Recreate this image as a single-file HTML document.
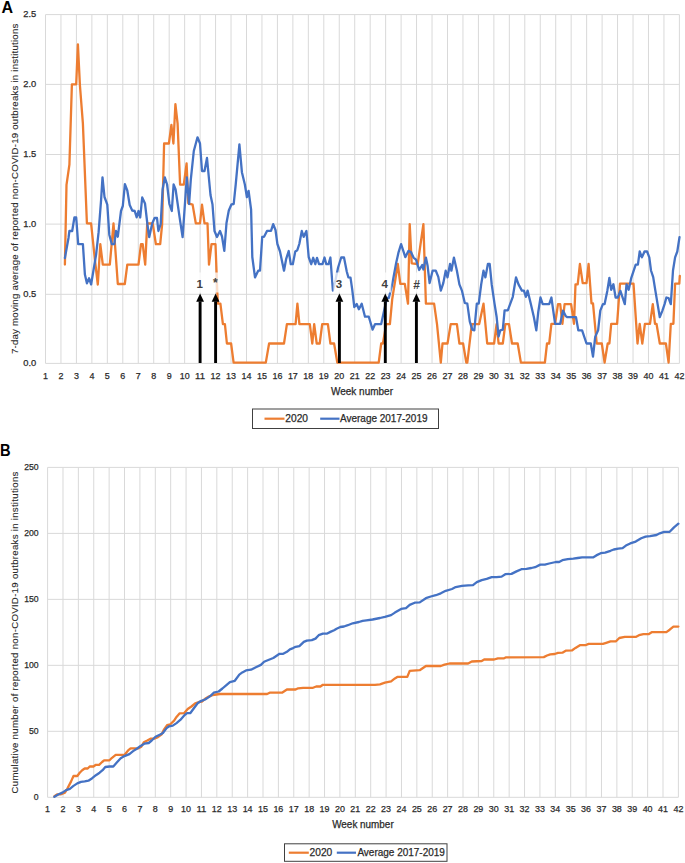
<!DOCTYPE html>
<html><head><meta charset="utf-8"><title>chart</title>
<style>html,body{margin:0;padding:0;background:#fff;} body{width:685px;height:863px;overflow:hidden;font-family:"Liberation Sans",sans-serif;}</style>
</head><body>
<svg width="685" height="863" viewBox="0 0 685 863" style="display:block">
<rect width="100%" height="100%" fill="#fff"/>
<g stroke="#D9D9D9" stroke-width="1" fill="none"><line x1="45.50" y1="14.60" x2="45.50" y2="363.40"/><line x1="60.96" y1="14.60" x2="60.96" y2="363.40"/><line x1="76.42" y1="14.60" x2="76.42" y2="363.40"/><line x1="91.88" y1="14.60" x2="91.88" y2="363.40"/><line x1="107.34" y1="14.60" x2="107.34" y2="363.40"/><line x1="122.80" y1="14.60" x2="122.80" y2="363.40"/><line x1="138.27" y1="14.60" x2="138.27" y2="363.40"/><line x1="153.73" y1="14.60" x2="153.73" y2="363.40"/><line x1="169.19" y1="14.60" x2="169.19" y2="363.40"/><line x1="184.65" y1="14.60" x2="184.65" y2="363.40"/><line x1="200.11" y1="14.60" x2="200.11" y2="363.40"/><line x1="215.57" y1="14.60" x2="215.57" y2="363.40"/><line x1="231.03" y1="14.60" x2="231.03" y2="363.40"/><line x1="246.49" y1="14.60" x2="246.49" y2="363.40"/><line x1="261.95" y1="14.60" x2="261.95" y2="363.40"/><line x1="277.41" y1="14.60" x2="277.41" y2="363.40"/><line x1="292.88" y1="14.60" x2="292.88" y2="363.40"/><line x1="308.34" y1="14.60" x2="308.34" y2="363.40"/><line x1="323.80" y1="14.60" x2="323.80" y2="363.40"/><line x1="339.26" y1="14.60" x2="339.26" y2="363.40"/><line x1="354.72" y1="14.60" x2="354.72" y2="363.40"/><line x1="370.18" y1="14.60" x2="370.18" y2="363.40"/><line x1="385.64" y1="14.60" x2="385.64" y2="363.40"/><line x1="401.10" y1="14.60" x2="401.10" y2="363.40"/><line x1="416.56" y1="14.60" x2="416.56" y2="363.40"/><line x1="432.02" y1="14.60" x2="432.02" y2="363.40"/><line x1="447.49" y1="14.60" x2="447.49" y2="363.40"/><line x1="462.95" y1="14.60" x2="462.95" y2="363.40"/><line x1="478.41" y1="14.60" x2="478.41" y2="363.40"/><line x1="493.87" y1="14.60" x2="493.87" y2="363.40"/><line x1="509.33" y1="14.60" x2="509.33" y2="363.40"/><line x1="524.79" y1="14.60" x2="524.79" y2="363.40"/><line x1="540.25" y1="14.60" x2="540.25" y2="363.40"/><line x1="555.71" y1="14.60" x2="555.71" y2="363.40"/><line x1="571.17" y1="14.60" x2="571.17" y2="363.40"/><line x1="586.63" y1="14.60" x2="586.63" y2="363.40"/><line x1="602.10" y1="14.60" x2="602.10" y2="363.40"/><line x1="617.56" y1="14.60" x2="617.56" y2="363.40"/><line x1="633.02" y1="14.60" x2="633.02" y2="363.40"/><line x1="648.48" y1="14.60" x2="648.48" y2="363.40"/><line x1="663.94" y1="14.60" x2="663.94" y2="363.40"/><line x1="679.40" y1="14.60" x2="679.40" y2="363.40"/><line x1="45.50" y1="363.40" x2="679.40" y2="363.40"/><line x1="45.50" y1="294.30" x2="679.40" y2="294.30"/><line x1="45.50" y1="224.10" x2="679.40" y2="224.10"/><line x1="45.50" y1="154.50" x2="679.40" y2="154.50"/><line x1="45.50" y1="84.40" x2="679.40" y2="84.40"/><line x1="45.50" y1="14.60" x2="679.40" y2="14.60"/></g>
<g stroke="#D9D9D9" stroke-width="1" fill="none"><line x1="47.60" y1="467.40" x2="47.60" y2="797.30"/><line x1="62.99" y1="467.40" x2="62.99" y2="797.30"/><line x1="78.37" y1="467.40" x2="78.37" y2="797.30"/><line x1="93.76" y1="467.40" x2="93.76" y2="797.30"/><line x1="109.14" y1="467.40" x2="109.14" y2="797.30"/><line x1="124.53" y1="467.40" x2="124.53" y2="797.30"/><line x1="139.91" y1="467.40" x2="139.91" y2="797.30"/><line x1="155.30" y1="467.40" x2="155.30" y2="797.30"/><line x1="170.68" y1="467.40" x2="170.68" y2="797.30"/><line x1="186.07" y1="467.40" x2="186.07" y2="797.30"/><line x1="201.45" y1="467.40" x2="201.45" y2="797.30"/><line x1="216.84" y1="467.40" x2="216.84" y2="797.30"/><line x1="232.22" y1="467.40" x2="232.22" y2="797.30"/><line x1="247.61" y1="467.40" x2="247.61" y2="797.30"/><line x1="263.00" y1="467.40" x2="263.00" y2="797.30"/><line x1="278.38" y1="467.40" x2="278.38" y2="797.30"/><line x1="293.77" y1="467.40" x2="293.77" y2="797.30"/><line x1="309.15" y1="467.40" x2="309.15" y2="797.30"/><line x1="324.54" y1="467.40" x2="324.54" y2="797.30"/><line x1="339.92" y1="467.40" x2="339.92" y2="797.30"/><line x1="355.31" y1="467.40" x2="355.31" y2="797.30"/><line x1="370.69" y1="467.40" x2="370.69" y2="797.30"/><line x1="386.08" y1="467.40" x2="386.08" y2="797.30"/><line x1="401.46" y1="467.40" x2="401.46" y2="797.30"/><line x1="416.85" y1="467.40" x2="416.85" y2="797.30"/><line x1="432.23" y1="467.40" x2="432.23" y2="797.30"/><line x1="447.62" y1="467.40" x2="447.62" y2="797.30"/><line x1="463.00" y1="467.40" x2="463.00" y2="797.30"/><line x1="478.39" y1="467.40" x2="478.39" y2="797.30"/><line x1="493.78" y1="467.40" x2="493.78" y2="797.30"/><line x1="509.16" y1="467.40" x2="509.16" y2="797.30"/><line x1="524.55" y1="467.40" x2="524.55" y2="797.30"/><line x1="539.93" y1="467.40" x2="539.93" y2="797.30"/><line x1="555.32" y1="467.40" x2="555.32" y2="797.30"/><line x1="570.70" y1="467.40" x2="570.70" y2="797.30"/><line x1="586.09" y1="467.40" x2="586.09" y2="797.30"/><line x1="601.47" y1="467.40" x2="601.47" y2="797.30"/><line x1="616.86" y1="467.40" x2="616.86" y2="797.30"/><line x1="632.24" y1="467.40" x2="632.24" y2="797.30"/><line x1="647.63" y1="467.40" x2="647.63" y2="797.30"/><line x1="663.01" y1="467.40" x2="663.01" y2="797.30"/><line x1="678.40" y1="467.40" x2="678.40" y2="797.30"/><line x1="47.60" y1="797.30" x2="678.40" y2="797.30"/><line x1="47.60" y1="731.32" x2="678.40" y2="731.32"/><line x1="47.60" y1="665.34" x2="678.40" y2="665.34"/><line x1="47.60" y1="599.36" x2="678.40" y2="599.36"/><line x1="47.60" y1="533.38" x2="678.40" y2="533.38"/><line x1="47.60" y1="467.40" x2="678.40" y2="467.40"/></g>
<text x="36.2" y="365.8" font-size="9.4" text-anchor="end" font-weight="normal" fill="#2a2a2a" stroke="#2a2a2a" stroke-width="0.25" font-family="Liberation Sans, sans-serif" textLength="13.0" lengthAdjust="spacingAndGlyphs" >0.0</text>
<text x="36.2" y="296.7" font-size="9.4" text-anchor="end" font-weight="normal" fill="#2a2a2a" stroke="#2a2a2a" stroke-width="0.25" font-family="Liberation Sans, sans-serif" textLength="13.0" lengthAdjust="spacingAndGlyphs" >0.5</text>
<text x="36.2" y="226.5" font-size="9.4" text-anchor="end" font-weight="normal" fill="#2a2a2a" stroke="#2a2a2a" stroke-width="0.25" font-family="Liberation Sans, sans-serif" textLength="13.0" lengthAdjust="spacingAndGlyphs" >1.0</text>
<text x="36.2" y="156.9" font-size="9.4" text-anchor="end" font-weight="normal" fill="#2a2a2a" stroke="#2a2a2a" stroke-width="0.25" font-family="Liberation Sans, sans-serif" textLength="13.0" lengthAdjust="spacingAndGlyphs" >1.5</text>
<text x="36.2" y="86.8" font-size="9.4" text-anchor="end" font-weight="normal" fill="#2a2a2a" stroke="#2a2a2a" stroke-width="0.25" font-family="Liberation Sans, sans-serif" textLength="13.0" lengthAdjust="spacingAndGlyphs" >2.0</text>
<text x="36.2" y="17.0" font-size="9.4" text-anchor="end" font-weight="normal" fill="#2a2a2a" stroke="#2a2a2a" stroke-width="0.25" font-family="Liberation Sans, sans-serif" textLength="13.0" lengthAdjust="spacingAndGlyphs" >2.5</text>
<text x="38.6" y="799.8" font-size="9.4" text-anchor="end" font-weight="normal" fill="#2a2a2a" stroke="#2a2a2a" stroke-width="0.25" font-family="Liberation Sans, sans-serif" textLength="4.81" lengthAdjust="spacingAndGlyphs" >0</text>
<text x="38.6" y="733.82" font-size="9.4" text-anchor="end" font-weight="normal" fill="#2a2a2a" stroke="#2a2a2a" stroke-width="0.25" font-family="Liberation Sans, sans-serif" textLength="9.62" lengthAdjust="spacingAndGlyphs" >50</text>
<text x="38.6" y="667.84" font-size="9.4" text-anchor="end" font-weight="normal" fill="#2a2a2a" stroke="#2a2a2a" stroke-width="0.25" font-family="Liberation Sans, sans-serif" textLength="14.43" lengthAdjust="spacingAndGlyphs" >100</text>
<text x="38.6" y="601.86" font-size="9.4" text-anchor="end" font-weight="normal" fill="#2a2a2a" stroke="#2a2a2a" stroke-width="0.25" font-family="Liberation Sans, sans-serif" textLength="14.43" lengthAdjust="spacingAndGlyphs" >150</text>
<text x="38.6" y="535.88" font-size="9.4" text-anchor="end" font-weight="normal" fill="#2a2a2a" stroke="#2a2a2a" stroke-width="0.25" font-family="Liberation Sans, sans-serif" textLength="14.43" lengthAdjust="spacingAndGlyphs" >200</text>
<text x="38.6" y="469.9" font-size="9.4" text-anchor="end" font-weight="normal" fill="#2a2a2a" stroke="#2a2a2a" stroke-width="0.25" font-family="Liberation Sans, sans-serif" textLength="14.43" lengthAdjust="spacingAndGlyphs" >250</text>
<text x="45.5" y="378.9" font-size="9.4" text-anchor="middle" font-weight="normal" fill="#2a2a2a" stroke="#2a2a2a" stroke-width="0.25" font-family="Liberation Sans, sans-serif" textLength="4.97" lengthAdjust="spacingAndGlyphs" >1</text>
<text x="47.6" y="812.0" font-size="9.4" text-anchor="middle" font-weight="normal" fill="#2a2a2a" stroke="#2a2a2a" stroke-width="0.25" font-family="Liberation Sans, sans-serif" textLength="4.97" lengthAdjust="spacingAndGlyphs" >1</text>
<text x="60.96" y="378.9" font-size="9.4" text-anchor="middle" font-weight="normal" fill="#2a2a2a" stroke="#2a2a2a" stroke-width="0.25" font-family="Liberation Sans, sans-serif" textLength="4.97" lengthAdjust="spacingAndGlyphs" >2</text>
<text x="62.99" y="812.0" font-size="9.4" text-anchor="middle" font-weight="normal" fill="#2a2a2a" stroke="#2a2a2a" stroke-width="0.25" font-family="Liberation Sans, sans-serif" textLength="4.97" lengthAdjust="spacingAndGlyphs" >2</text>
<text x="76.42" y="378.9" font-size="9.4" text-anchor="middle" font-weight="normal" fill="#2a2a2a" stroke="#2a2a2a" stroke-width="0.25" font-family="Liberation Sans, sans-serif" textLength="4.97" lengthAdjust="spacingAndGlyphs" >3</text>
<text x="78.37" y="812.0" font-size="9.4" text-anchor="middle" font-weight="normal" fill="#2a2a2a" stroke="#2a2a2a" stroke-width="0.25" font-family="Liberation Sans, sans-serif" textLength="4.97" lengthAdjust="spacingAndGlyphs" >3</text>
<text x="91.88" y="378.9" font-size="9.4" text-anchor="middle" font-weight="normal" fill="#2a2a2a" stroke="#2a2a2a" stroke-width="0.25" font-family="Liberation Sans, sans-serif" textLength="4.97" lengthAdjust="spacingAndGlyphs" >4</text>
<text x="93.76" y="812.0" font-size="9.4" text-anchor="middle" font-weight="normal" fill="#2a2a2a" stroke="#2a2a2a" stroke-width="0.25" font-family="Liberation Sans, sans-serif" textLength="4.97" lengthAdjust="spacingAndGlyphs" >4</text>
<text x="107.34" y="378.9" font-size="9.4" text-anchor="middle" font-weight="normal" fill="#2a2a2a" stroke="#2a2a2a" stroke-width="0.25" font-family="Liberation Sans, sans-serif" textLength="4.97" lengthAdjust="spacingAndGlyphs" >5</text>
<text x="109.14" y="812.0" font-size="9.4" text-anchor="middle" font-weight="normal" fill="#2a2a2a" stroke="#2a2a2a" stroke-width="0.25" font-family="Liberation Sans, sans-serif" textLength="4.97" lengthAdjust="spacingAndGlyphs" >5</text>
<text x="122.8" y="378.9" font-size="9.4" text-anchor="middle" font-weight="normal" fill="#2a2a2a" stroke="#2a2a2a" stroke-width="0.25" font-family="Liberation Sans, sans-serif" textLength="4.97" lengthAdjust="spacingAndGlyphs" >6</text>
<text x="124.53" y="812.0" font-size="9.4" text-anchor="middle" font-weight="normal" fill="#2a2a2a" stroke="#2a2a2a" stroke-width="0.25" font-family="Liberation Sans, sans-serif" textLength="4.97" lengthAdjust="spacingAndGlyphs" >6</text>
<text x="138.27" y="378.9" font-size="9.4" text-anchor="middle" font-weight="normal" fill="#2a2a2a" stroke="#2a2a2a" stroke-width="0.25" font-family="Liberation Sans, sans-serif" textLength="4.97" lengthAdjust="spacingAndGlyphs" >7</text>
<text x="139.91" y="812.0" font-size="9.4" text-anchor="middle" font-weight="normal" fill="#2a2a2a" stroke="#2a2a2a" stroke-width="0.25" font-family="Liberation Sans, sans-serif" textLength="4.97" lengthAdjust="spacingAndGlyphs" >7</text>
<text x="153.73" y="378.9" font-size="9.4" text-anchor="middle" font-weight="normal" fill="#2a2a2a" stroke="#2a2a2a" stroke-width="0.25" font-family="Liberation Sans, sans-serif" textLength="4.97" lengthAdjust="spacingAndGlyphs" >8</text>
<text x="155.3" y="812.0" font-size="9.4" text-anchor="middle" font-weight="normal" fill="#2a2a2a" stroke="#2a2a2a" stroke-width="0.25" font-family="Liberation Sans, sans-serif" textLength="4.97" lengthAdjust="spacingAndGlyphs" >8</text>
<text x="169.19" y="378.9" font-size="9.4" text-anchor="middle" font-weight="normal" fill="#2a2a2a" stroke="#2a2a2a" stroke-width="0.25" font-family="Liberation Sans, sans-serif" textLength="4.97" lengthAdjust="spacingAndGlyphs" >9</text>
<text x="170.68" y="812.0" font-size="9.4" text-anchor="middle" font-weight="normal" fill="#2a2a2a" stroke="#2a2a2a" stroke-width="0.25" font-family="Liberation Sans, sans-serif" textLength="4.97" lengthAdjust="spacingAndGlyphs" >9</text>
<text x="184.65" y="378.9" font-size="9.4" text-anchor="middle" font-weight="normal" fill="#2a2a2a" stroke="#2a2a2a" stroke-width="0.25" font-family="Liberation Sans, sans-serif" textLength="9.94" lengthAdjust="spacingAndGlyphs" >10</text>
<text x="186.07" y="812.0" font-size="9.4" text-anchor="middle" font-weight="normal" fill="#2a2a2a" stroke="#2a2a2a" stroke-width="0.25" font-family="Liberation Sans, sans-serif" textLength="9.94" lengthAdjust="spacingAndGlyphs" >10</text>
<text x="200.11" y="378.9" font-size="9.4" text-anchor="middle" font-weight="normal" fill="#2a2a2a" stroke="#2a2a2a" stroke-width="0.25" font-family="Liberation Sans, sans-serif" textLength="9.94" lengthAdjust="spacingAndGlyphs" >11</text>
<text x="201.45" y="812.0" font-size="9.4" text-anchor="middle" font-weight="normal" fill="#2a2a2a" stroke="#2a2a2a" stroke-width="0.25" font-family="Liberation Sans, sans-serif" textLength="9.94" lengthAdjust="spacingAndGlyphs" >11</text>
<text x="215.57" y="378.9" font-size="9.4" text-anchor="middle" font-weight="normal" fill="#2a2a2a" stroke="#2a2a2a" stroke-width="0.25" font-family="Liberation Sans, sans-serif" textLength="9.94" lengthAdjust="spacingAndGlyphs" >12</text>
<text x="216.84" y="812.0" font-size="9.4" text-anchor="middle" font-weight="normal" fill="#2a2a2a" stroke="#2a2a2a" stroke-width="0.25" font-family="Liberation Sans, sans-serif" textLength="9.94" lengthAdjust="spacingAndGlyphs" >12</text>
<text x="231.03" y="378.9" font-size="9.4" text-anchor="middle" font-weight="normal" fill="#2a2a2a" stroke="#2a2a2a" stroke-width="0.25" font-family="Liberation Sans, sans-serif" textLength="9.94" lengthAdjust="spacingAndGlyphs" >13</text>
<text x="232.22" y="812.0" font-size="9.4" text-anchor="middle" font-weight="normal" fill="#2a2a2a" stroke="#2a2a2a" stroke-width="0.25" font-family="Liberation Sans, sans-serif" textLength="9.94" lengthAdjust="spacingAndGlyphs" >13</text>
<text x="246.49" y="378.9" font-size="9.4" text-anchor="middle" font-weight="normal" fill="#2a2a2a" stroke="#2a2a2a" stroke-width="0.25" font-family="Liberation Sans, sans-serif" textLength="9.94" lengthAdjust="spacingAndGlyphs" >14</text>
<text x="247.61" y="812.0" font-size="9.4" text-anchor="middle" font-weight="normal" fill="#2a2a2a" stroke="#2a2a2a" stroke-width="0.25" font-family="Liberation Sans, sans-serif" textLength="9.94" lengthAdjust="spacingAndGlyphs" >14</text>
<text x="261.95" y="378.9" font-size="9.4" text-anchor="middle" font-weight="normal" fill="#2a2a2a" stroke="#2a2a2a" stroke-width="0.25" font-family="Liberation Sans, sans-serif" textLength="9.94" lengthAdjust="spacingAndGlyphs" >15</text>
<text x="263.0" y="812.0" font-size="9.4" text-anchor="middle" font-weight="normal" fill="#2a2a2a" stroke="#2a2a2a" stroke-width="0.25" font-family="Liberation Sans, sans-serif" textLength="9.94" lengthAdjust="spacingAndGlyphs" >15</text>
<text x="277.41" y="378.9" font-size="9.4" text-anchor="middle" font-weight="normal" fill="#2a2a2a" stroke="#2a2a2a" stroke-width="0.25" font-family="Liberation Sans, sans-serif" textLength="9.94" lengthAdjust="spacingAndGlyphs" >16</text>
<text x="278.38" y="812.0" font-size="9.4" text-anchor="middle" font-weight="normal" fill="#2a2a2a" stroke="#2a2a2a" stroke-width="0.25" font-family="Liberation Sans, sans-serif" textLength="9.94" lengthAdjust="spacingAndGlyphs" >16</text>
<text x="292.88" y="378.9" font-size="9.4" text-anchor="middle" font-weight="normal" fill="#2a2a2a" stroke="#2a2a2a" stroke-width="0.25" font-family="Liberation Sans, sans-serif" textLength="9.94" lengthAdjust="spacingAndGlyphs" >17</text>
<text x="293.77" y="812.0" font-size="9.4" text-anchor="middle" font-weight="normal" fill="#2a2a2a" stroke="#2a2a2a" stroke-width="0.25" font-family="Liberation Sans, sans-serif" textLength="9.94" lengthAdjust="spacingAndGlyphs" >17</text>
<text x="308.34" y="378.9" font-size="9.4" text-anchor="middle" font-weight="normal" fill="#2a2a2a" stroke="#2a2a2a" stroke-width="0.25" font-family="Liberation Sans, sans-serif" textLength="9.94" lengthAdjust="spacingAndGlyphs" >18</text>
<text x="309.15" y="812.0" font-size="9.4" text-anchor="middle" font-weight="normal" fill="#2a2a2a" stroke="#2a2a2a" stroke-width="0.25" font-family="Liberation Sans, sans-serif" textLength="9.94" lengthAdjust="spacingAndGlyphs" >18</text>
<text x="323.8" y="378.9" font-size="9.4" text-anchor="middle" font-weight="normal" fill="#2a2a2a" stroke="#2a2a2a" stroke-width="0.25" font-family="Liberation Sans, sans-serif" textLength="9.94" lengthAdjust="spacingAndGlyphs" >19</text>
<text x="324.54" y="812.0" font-size="9.4" text-anchor="middle" font-weight="normal" fill="#2a2a2a" stroke="#2a2a2a" stroke-width="0.25" font-family="Liberation Sans, sans-serif" textLength="9.94" lengthAdjust="spacingAndGlyphs" >19</text>
<text x="339.26" y="378.9" font-size="9.4" text-anchor="middle" font-weight="normal" fill="#2a2a2a" stroke="#2a2a2a" stroke-width="0.25" font-family="Liberation Sans, sans-serif" textLength="9.94" lengthAdjust="spacingAndGlyphs" >20</text>
<text x="339.92" y="812.0" font-size="9.4" text-anchor="middle" font-weight="normal" fill="#2a2a2a" stroke="#2a2a2a" stroke-width="0.25" font-family="Liberation Sans, sans-serif" textLength="9.94" lengthAdjust="spacingAndGlyphs" >20</text>
<text x="354.72" y="378.9" font-size="9.4" text-anchor="middle" font-weight="normal" fill="#2a2a2a" stroke="#2a2a2a" stroke-width="0.25" font-family="Liberation Sans, sans-serif" textLength="9.94" lengthAdjust="spacingAndGlyphs" >21</text>
<text x="355.31" y="812.0" font-size="9.4" text-anchor="middle" font-weight="normal" fill="#2a2a2a" stroke="#2a2a2a" stroke-width="0.25" font-family="Liberation Sans, sans-serif" textLength="9.94" lengthAdjust="spacingAndGlyphs" >21</text>
<text x="370.18" y="378.9" font-size="9.4" text-anchor="middle" font-weight="normal" fill="#2a2a2a" stroke="#2a2a2a" stroke-width="0.25" font-family="Liberation Sans, sans-serif" textLength="9.94" lengthAdjust="spacingAndGlyphs" >22</text>
<text x="370.69" y="812.0" font-size="9.4" text-anchor="middle" font-weight="normal" fill="#2a2a2a" stroke="#2a2a2a" stroke-width="0.25" font-family="Liberation Sans, sans-serif" textLength="9.94" lengthAdjust="spacingAndGlyphs" >22</text>
<text x="385.64" y="378.9" font-size="9.4" text-anchor="middle" font-weight="normal" fill="#2a2a2a" stroke="#2a2a2a" stroke-width="0.25" font-family="Liberation Sans, sans-serif" textLength="9.94" lengthAdjust="spacingAndGlyphs" >23</text>
<text x="386.08" y="812.0" font-size="9.4" text-anchor="middle" font-weight="normal" fill="#2a2a2a" stroke="#2a2a2a" stroke-width="0.25" font-family="Liberation Sans, sans-serif" textLength="9.94" lengthAdjust="spacingAndGlyphs" >23</text>
<text x="401.1" y="378.9" font-size="9.4" text-anchor="middle" font-weight="normal" fill="#2a2a2a" stroke="#2a2a2a" stroke-width="0.25" font-family="Liberation Sans, sans-serif" textLength="9.94" lengthAdjust="spacingAndGlyphs" >24</text>
<text x="401.46" y="812.0" font-size="9.4" text-anchor="middle" font-weight="normal" fill="#2a2a2a" stroke="#2a2a2a" stroke-width="0.25" font-family="Liberation Sans, sans-serif" textLength="9.94" lengthAdjust="spacingAndGlyphs" >24</text>
<text x="416.56" y="378.9" font-size="9.4" text-anchor="middle" font-weight="normal" fill="#2a2a2a" stroke="#2a2a2a" stroke-width="0.25" font-family="Liberation Sans, sans-serif" textLength="9.94" lengthAdjust="spacingAndGlyphs" >25</text>
<text x="416.85" y="812.0" font-size="9.4" text-anchor="middle" font-weight="normal" fill="#2a2a2a" stroke="#2a2a2a" stroke-width="0.25" font-family="Liberation Sans, sans-serif" textLength="9.94" lengthAdjust="spacingAndGlyphs" >25</text>
<text x="432.02" y="378.9" font-size="9.4" text-anchor="middle" font-weight="normal" fill="#2a2a2a" stroke="#2a2a2a" stroke-width="0.25" font-family="Liberation Sans, sans-serif" textLength="9.94" lengthAdjust="spacingAndGlyphs" >26</text>
<text x="432.23" y="812.0" font-size="9.4" text-anchor="middle" font-weight="normal" fill="#2a2a2a" stroke="#2a2a2a" stroke-width="0.25" font-family="Liberation Sans, sans-serif" textLength="9.94" lengthAdjust="spacingAndGlyphs" >26</text>
<text x="447.49" y="378.9" font-size="9.4" text-anchor="middle" font-weight="normal" fill="#2a2a2a" stroke="#2a2a2a" stroke-width="0.25" font-family="Liberation Sans, sans-serif" textLength="9.94" lengthAdjust="spacingAndGlyphs" >27</text>
<text x="447.62" y="812.0" font-size="9.4" text-anchor="middle" font-weight="normal" fill="#2a2a2a" stroke="#2a2a2a" stroke-width="0.25" font-family="Liberation Sans, sans-serif" textLength="9.94" lengthAdjust="spacingAndGlyphs" >27</text>
<text x="462.95" y="378.9" font-size="9.4" text-anchor="middle" font-weight="normal" fill="#2a2a2a" stroke="#2a2a2a" stroke-width="0.25" font-family="Liberation Sans, sans-serif" textLength="9.94" lengthAdjust="spacingAndGlyphs" >28</text>
<text x="463.0" y="812.0" font-size="9.4" text-anchor="middle" font-weight="normal" fill="#2a2a2a" stroke="#2a2a2a" stroke-width="0.25" font-family="Liberation Sans, sans-serif" textLength="9.94" lengthAdjust="spacingAndGlyphs" >28</text>
<text x="478.41" y="378.9" font-size="9.4" text-anchor="middle" font-weight="normal" fill="#2a2a2a" stroke="#2a2a2a" stroke-width="0.25" font-family="Liberation Sans, sans-serif" textLength="9.94" lengthAdjust="spacingAndGlyphs" >29</text>
<text x="478.39" y="812.0" font-size="9.4" text-anchor="middle" font-weight="normal" fill="#2a2a2a" stroke="#2a2a2a" stroke-width="0.25" font-family="Liberation Sans, sans-serif" textLength="9.94" lengthAdjust="spacingAndGlyphs" >29</text>
<text x="493.87" y="378.9" font-size="9.4" text-anchor="middle" font-weight="normal" fill="#2a2a2a" stroke="#2a2a2a" stroke-width="0.25" font-family="Liberation Sans, sans-serif" textLength="9.94" lengthAdjust="spacingAndGlyphs" >30</text>
<text x="493.78" y="812.0" font-size="9.4" text-anchor="middle" font-weight="normal" fill="#2a2a2a" stroke="#2a2a2a" stroke-width="0.25" font-family="Liberation Sans, sans-serif" textLength="9.94" lengthAdjust="spacingAndGlyphs" >30</text>
<text x="509.33" y="378.9" font-size="9.4" text-anchor="middle" font-weight="normal" fill="#2a2a2a" stroke="#2a2a2a" stroke-width="0.25" font-family="Liberation Sans, sans-serif" textLength="9.94" lengthAdjust="spacingAndGlyphs" >31</text>
<text x="509.16" y="812.0" font-size="9.4" text-anchor="middle" font-weight="normal" fill="#2a2a2a" stroke="#2a2a2a" stroke-width="0.25" font-family="Liberation Sans, sans-serif" textLength="9.94" lengthAdjust="spacingAndGlyphs" >31</text>
<text x="524.79" y="378.9" font-size="9.4" text-anchor="middle" font-weight="normal" fill="#2a2a2a" stroke="#2a2a2a" stroke-width="0.25" font-family="Liberation Sans, sans-serif" textLength="9.94" lengthAdjust="spacingAndGlyphs" >32</text>
<text x="524.55" y="812.0" font-size="9.4" text-anchor="middle" font-weight="normal" fill="#2a2a2a" stroke="#2a2a2a" stroke-width="0.25" font-family="Liberation Sans, sans-serif" textLength="9.94" lengthAdjust="spacingAndGlyphs" >32</text>
<text x="540.25" y="378.9" font-size="9.4" text-anchor="middle" font-weight="normal" fill="#2a2a2a" stroke="#2a2a2a" stroke-width="0.25" font-family="Liberation Sans, sans-serif" textLength="9.94" lengthAdjust="spacingAndGlyphs" >33</text>
<text x="539.93" y="812.0" font-size="9.4" text-anchor="middle" font-weight="normal" fill="#2a2a2a" stroke="#2a2a2a" stroke-width="0.25" font-family="Liberation Sans, sans-serif" textLength="9.94" lengthAdjust="spacingAndGlyphs" >33</text>
<text x="555.71" y="378.9" font-size="9.4" text-anchor="middle" font-weight="normal" fill="#2a2a2a" stroke="#2a2a2a" stroke-width="0.25" font-family="Liberation Sans, sans-serif" textLength="9.94" lengthAdjust="spacingAndGlyphs" >34</text>
<text x="555.32" y="812.0" font-size="9.4" text-anchor="middle" font-weight="normal" fill="#2a2a2a" stroke="#2a2a2a" stroke-width="0.25" font-family="Liberation Sans, sans-serif" textLength="9.94" lengthAdjust="spacingAndGlyphs" >34</text>
<text x="571.17" y="378.9" font-size="9.4" text-anchor="middle" font-weight="normal" fill="#2a2a2a" stroke="#2a2a2a" stroke-width="0.25" font-family="Liberation Sans, sans-serif" textLength="9.94" lengthAdjust="spacingAndGlyphs" >35</text>
<text x="570.7" y="812.0" font-size="9.4" text-anchor="middle" font-weight="normal" fill="#2a2a2a" stroke="#2a2a2a" stroke-width="0.25" font-family="Liberation Sans, sans-serif" textLength="9.94" lengthAdjust="spacingAndGlyphs" >35</text>
<text x="586.63" y="378.9" font-size="9.4" text-anchor="middle" font-weight="normal" fill="#2a2a2a" stroke="#2a2a2a" stroke-width="0.25" font-family="Liberation Sans, sans-serif" textLength="9.94" lengthAdjust="spacingAndGlyphs" >36</text>
<text x="586.09" y="812.0" font-size="9.4" text-anchor="middle" font-weight="normal" fill="#2a2a2a" stroke="#2a2a2a" stroke-width="0.25" font-family="Liberation Sans, sans-serif" textLength="9.94" lengthAdjust="spacingAndGlyphs" >36</text>
<text x="602.1" y="378.9" font-size="9.4" text-anchor="middle" font-weight="normal" fill="#2a2a2a" stroke="#2a2a2a" stroke-width="0.25" font-family="Liberation Sans, sans-serif" textLength="9.94" lengthAdjust="spacingAndGlyphs" >37</text>
<text x="601.47" y="812.0" font-size="9.4" text-anchor="middle" font-weight="normal" fill="#2a2a2a" stroke="#2a2a2a" stroke-width="0.25" font-family="Liberation Sans, sans-serif" textLength="9.94" lengthAdjust="spacingAndGlyphs" >37</text>
<text x="617.56" y="378.9" font-size="9.4" text-anchor="middle" font-weight="normal" fill="#2a2a2a" stroke="#2a2a2a" stroke-width="0.25" font-family="Liberation Sans, sans-serif" textLength="9.94" lengthAdjust="spacingAndGlyphs" >38</text>
<text x="616.86" y="812.0" font-size="9.4" text-anchor="middle" font-weight="normal" fill="#2a2a2a" stroke="#2a2a2a" stroke-width="0.25" font-family="Liberation Sans, sans-serif" textLength="9.94" lengthAdjust="spacingAndGlyphs" >38</text>
<text x="633.02" y="378.9" font-size="9.4" text-anchor="middle" font-weight="normal" fill="#2a2a2a" stroke="#2a2a2a" stroke-width="0.25" font-family="Liberation Sans, sans-serif" textLength="9.94" lengthAdjust="spacingAndGlyphs" >39</text>
<text x="632.24" y="812.0" font-size="9.4" text-anchor="middle" font-weight="normal" fill="#2a2a2a" stroke="#2a2a2a" stroke-width="0.25" font-family="Liberation Sans, sans-serif" textLength="9.94" lengthAdjust="spacingAndGlyphs" >39</text>
<text x="648.48" y="378.9" font-size="9.4" text-anchor="middle" font-weight="normal" fill="#2a2a2a" stroke="#2a2a2a" stroke-width="0.25" font-family="Liberation Sans, sans-serif" textLength="9.94" lengthAdjust="spacingAndGlyphs" >40</text>
<text x="647.63" y="812.0" font-size="9.4" text-anchor="middle" font-weight="normal" fill="#2a2a2a" stroke="#2a2a2a" stroke-width="0.25" font-family="Liberation Sans, sans-serif" textLength="9.94" lengthAdjust="spacingAndGlyphs" >40</text>
<text x="663.94" y="378.9" font-size="9.4" text-anchor="middle" font-weight="normal" fill="#2a2a2a" stroke="#2a2a2a" stroke-width="0.25" font-family="Liberation Sans, sans-serif" textLength="9.94" lengthAdjust="spacingAndGlyphs" >41</text>
<text x="663.01" y="812.0" font-size="9.4" text-anchor="middle" font-weight="normal" fill="#2a2a2a" stroke="#2a2a2a" stroke-width="0.25" font-family="Liberation Sans, sans-serif" textLength="9.94" lengthAdjust="spacingAndGlyphs" >41</text>
<text x="679.4" y="378.9" font-size="9.4" text-anchor="middle" font-weight="normal" fill="#2a2a2a" stroke="#2a2a2a" stroke-width="0.25" font-family="Liberation Sans, sans-serif" textLength="9.94" lengthAdjust="spacingAndGlyphs" >42</text>
<text x="678.4" y="812.0" font-size="9.4" text-anchor="middle" font-weight="normal" fill="#2a2a2a" stroke="#2a2a2a" stroke-width="0.25" font-family="Liberation Sans, sans-serif" textLength="9.94" lengthAdjust="spacingAndGlyphs" >42</text>
<text x="331.0" y="394.8" font-size="10" text-anchor="start" font-weight="normal" fill="#2a2a2a" stroke="#2a2a2a" stroke-width="0.25" font-family="Liberation Sans, sans-serif" textLength="62" lengthAdjust="spacingAndGlyphs" >Week number</text>
<text x="332.2" y="828.1" font-size="10" text-anchor="start" font-weight="normal" fill="#2a2a2a" stroke="#2a2a2a" stroke-width="0.25" font-family="Liberation Sans, sans-serif" textLength="61.5" lengthAdjust="spacingAndGlyphs" >Week number</text>
<g transform="translate(17.8,354.1) rotate(-90)"><text x="0" y="0" font-size="9.7" text-anchor="start" font-weight="normal" fill="#2a2a2a" stroke="#2a2a2a" stroke-width="0.1" font-family="Liberation Sans, sans-serif" textLength="330.5" lengthAdjust="spacing" >7-day moving average of reported non-COVID-19 outbreaks in institutions</text></g>
<g transform="translate(18.1,793.4) rotate(-90)"><text x="0" y="0" font-size="9.7" text-anchor="start" font-weight="normal" fill="#2a2a2a" stroke="#2a2a2a" stroke-width="0.1" font-family="Liberation Sans, sans-serif" textLength="321.8" lengthAdjust="spacing" >Cumulative number of reported non-COVID-19 outbreaks in institutions</text></g>
<text x="1.6" y="12.6" font-size="16" text-anchor="start" font-weight="bold" fill="#000" font-family="Liberation Sans, sans-serif" >A</text>
<text x="0.0" y="455.8" font-size="16" text-anchor="start" font-weight="bold" fill="#000" font-family="Liberation Sans, sans-serif" textLength="10.6" lengthAdjust="spacingAndGlyphs" >B</text>
<rect x="252.5" y="409.0" width="186.0" height="19.5" fill="#fff" stroke="#404040" stroke-width="1"/><line x1="264.5" y1="418.7" x2="284.5" y2="418.7" stroke="#ED7D31" stroke-width="2.2"/><text x="285.3" y="422.1" font-size="10.2" text-anchor="start" font-weight="normal" fill="#2a2a2a" stroke="#2a2a2a" stroke-width="0.25" font-family="Liberation Sans, sans-serif" >2020</text><line x1="320.2" y1="418.7" x2="339.5" y2="418.7" stroke="#4472C4" stroke-width="2.2"/><text x="340.0" y="422.1" font-size="10.2" text-anchor="start" font-weight="normal" fill="#2a2a2a" stroke="#2a2a2a" stroke-width="0.25" font-family="Liberation Sans, sans-serif" textLength="87.5" lengthAdjust="spacingAndGlyphs" >Average 2017-2019</text>
<rect x="284.5" y="843.8" width="162.5" height="17.5" fill="#fff" stroke="#404040" stroke-width="1"/><line x1="288.8" y1="852.7" x2="308.8" y2="852.7" stroke="#ED7D31" stroke-width="2.2"/><text x="309.6" y="856.1" font-size="10.2" text-anchor="start" font-weight="normal" fill="#2a2a2a" stroke="#2a2a2a" stroke-width="0.25" font-family="Liberation Sans, sans-serif" >2020</text><line x1="336.8" y1="852.7" x2="356.0" y2="852.7" stroke="#4472C4" stroke-width="2.2"/><text x="357.4" y="856.1" font-size="10.2" text-anchor="start" font-weight="normal" fill="#2a2a2a" stroke="#2a2a2a" stroke-width="0.25" font-family="Liberation Sans, sans-serif" textLength="87.5" lengthAdjust="spacingAndGlyphs" >Average 2017-2019</text>
<g fill="none" stroke-width="2.3" stroke-linejoin="round" stroke-linecap="round">
<polyline stroke="#ED7D31" points="64.9,264.6 66.5,184.8 69.4,164.7 71.9,84.3 76.2,84.3 77.9,44.4 79.9,85.0 82.9,123.6 86.9,223.3 91.1,223.5 94.9,259.6 97.8,284.5 100.3,244.2 102.8,264.6 109.8,264.6 113.5,223.5 117.8,284.0 124.8,284.0 127.3,264.6 138.5,264.6 141.0,244.2 142.7,244.2 145.2,264.6 147.2,223.5 152.7,223.5 155.9,244.2 160.2,244.2 162.1,224.7 164.1,143.5 168.9,143.5 171.4,124.9 173.4,143.5 175.4,104.2 177.6,123.6 180.1,184.7 183.8,184.7 186.6,163.5 188.3,203.3 192.6,204.6 195.8,223.3 200.0,223.3 202.0,204.6 204.5,223.3 207.5,223.3 209.0,264.6 211.5,244.2 215.5,244.2 217.4,294.3 217.9,303.7 220.4,303.7 222.9,324.1 224.9,324.1 226.9,343.5 231.1,343.5 233.6,362.6 265.8,362.6 269.1,343.5 284.0,343.5 286.9,324.1 295.6,324.1 297.4,303.7 299.4,324.1 309.8,324.1 312.3,343.5 314.2,324.1 316.7,343.5 319.7,343.5 322.2,324.1 327.9,324.1 330.4,343.5 334.1,343.5 337.3,362.6 378.7,362.6 381.2,343.5 382.9,343.5 386.2,324.1 389.9,324.1 392.2,299.3 397.8,264.0 400.3,283.9 404.8,283.9 408.0,303.7 409.7,224.1 411.7,263.3 417.7,264.0 423.4,224.1 425.9,303.7 434.1,303.7 437.0,324.1 440.8,362.6 442.5,343.5 447.5,343.5 450.7,324.1 456.9,324.1 459.4,343.5 463.1,343.5 466.3,362.6 467.3,362.6 471.8,324.1 479.2,324.1 483.5,303.7 487.2,343.5 494.1,343.5 496.6,324.1 498.6,343.5 502.8,343.5 505.3,324.1 509.0,324.1 512.0,343.5 517.7,343.5 520.9,362.6 544.9,362.5 547.0,343.5 549.2,343.5 551.4,323.8 555.1,323.8 558.0,304.1 560.2,304.1 562.4,323.8 564.6,304.1 571.1,304.1 574.0,323.8 575.5,284.3 577.7,284.3 579.9,264.0 582.7,283.2 586.5,283.2 588.6,264.0 591.5,303.4 593.0,303.4 596.7,343.5 601.8,343.5 604.6,362.5 607.7,343.5 609.4,343.5 611.2,323.8 617.1,323.8 620.0,283.7 633.5,283.7 636.2,323.8 637.5,343.5 639.7,323.8 642.3,343.5 644.9,323.8 650.0,323.8 652.8,304.1 655.0,323.8 656.5,323.8 659.8,343.5 665.9,343.5 668.6,362.5 670.8,323.8 673.4,323.8 675.1,283.7 679.3,283.7 679.8,276.0"/>
<polyline stroke="#4472C4" points="64.9,258.0 68.5,238.0 69.4,231.0 72.2,231.0 74.4,217.5 76.2,217.5 78.2,244.2 82.9,244.2 84.9,274.6 86.9,283.3 89.1,278.3 91.1,284.5 96.1,254.6 98.6,232.2 101.1,199.8 102.5,177.3 104.5,197.0 107.3,204.7 109.3,234.7 111.8,244.2 114.3,244.2 116.0,231.0 117.8,236.7 121.0,211.0 122.8,206.0 124.9,184.2 127.3,190.5 129.7,205.0 132.2,210.5 134.7,211.0 136.7,217.3 138.5,211.0 140.2,217.5 142.2,197.5 145.0,203.5 147.5,225.0 149.2,237.2 152.2,223.5 154.7,217.8 157.0,218.0 158.4,231.0 160.7,224.0 162.6,189.5 164.8,177.3 167.1,184.5 169.4,204.0 171.8,211.0 173.6,184.5 175.6,189.5 179.6,217.3 182.6,237.2 186.8,177.3 189.1,204.0 190.8,179.7 193.8,151.0 197.5,137.3 200.0,143.5 202.0,171.0 204.5,171.0 207.0,158.0 210.5,195.0 212.5,204.6 214.5,231.0 217.0,237.0 220.0,231.0 222.0,236.5 224.3,250.8 226.5,223.0 228.8,210.5 231.5,204.3 233.7,204.0 235.7,184.7 239.4,144.3 241.9,172.2 244.9,184.7 246.9,197.2 248.6,190.9 251.1,209.6 252.3,257.0 255.0,277.4 258.2,270.7 260.0,270.7 262.2,237.0 264.2,236.6 267.0,230.9 271.0,230.9 273.2,224.2 275.5,230.0 277.4,244.0 280.0,251.5 284.0,270.7 286.2,258.8 288.7,251.0 290.8,264.2 292.8,264.2 295.3,251.4 297.3,250.2 299.3,244.0 301.8,231.0 303.7,236.8 306.4,231.0 308.7,257.0 311.2,264.2 313.2,257.8 315.3,264.2 317.0,257.8 319.0,264.2 322.5,264.2 324.5,257.5 326.3,264.2 328.5,264.2 330.4,257.5 332.9,290.6 335.5,280.0 338.1,267.5 341.2,257.5 344.0,257.5 346.8,271.7 348.4,277.4 350.5,277.7 352.2,289.4 354.3,307.0 356.7,304.0 358.9,309.2 361.7,303.7 365.0,316.7 368.8,316.7 372.6,329.6 375.1,324.1 381.2,324.1 384.4,309.2 386.9,298.0 388.8,298.0 392.2,284.4 396.1,263.3 398.6,252.1 401.1,244.2 405.3,257.1 408.5,250.9 411.0,252.1 413.5,257.6 416.0,259.6 419.2,270.0 422.2,265.0 423.4,269.5 425.9,257.6 427.6,265.8 429.6,283.1 432.6,270.7 435.8,270.7 438.3,276.9 440.8,290.6 443.3,283.1 445.7,270.7 447.5,277.4 450.0,264.0 451.4,270.7 453.9,257.6 456.9,270.7 459.4,284.4 461.9,290.6 464.8,303.0 467.3,303.7 469.8,321.6 472.3,329.6 474.3,330.3 476.8,303.7 478.7,303.7 481.2,284.4 483.5,270.7 485.4,277.4 487.9,264.0 489.7,264.0 491.7,284.4 494.6,304.2 496.6,316.7 498.6,336.5 500.3,330.3 502.8,329.6 504.6,310.4 507.8,310.4 510.3,303.7 512.8,296.8 516.0,277.4 518.5,284.4 521.9,290.6 523.9,290.6 525.9,296.8 527.6,290.6 530.9,304.2 533.8,316.7 536.3,330.3 538.3,311.7 540.5,297.5 542.7,304.1 549.2,304.1 551.4,297.5 555.1,323.8 560.2,323.8 563.0,310.6 565.7,316.1 567.4,317.2 576.0,317.2 578.3,330.3 582.1,330.3 586.5,343.5 590.8,343.5 593.0,356.6 595.2,336.9 598.1,330.3 600.3,310.6 602.9,304.1 604.6,304.1 607.3,290.9 609.4,277.8 611.2,289.8 613.4,284.3 615.6,297.5 617.8,297.5 620.4,290.9 624.8,304.1 626.5,284.3 628.7,289.8 631.3,277.8 635.7,264.6 637.9,264.6 639.7,251.5 641.9,257.4 644.5,251.5 647.1,251.5 649.3,257.4 651.0,270.5 653.2,277.1 655.4,290.9 657.6,304.1 659.8,317.2 662.4,310.6 664.6,304.1 666.4,297.5 668.6,298.1 670.8,304.1 673.0,270.5 675.1,257.4 677.3,251.5 679.5,237.2"/>
<polyline stroke="#ED7D31" points="54.4,796.3 57.4,794.3 61.1,794.3 64.9,792.6 67.3,788.8 71.1,781.4 73.5,776.0 77.3,776.0 79.7,772.7 82.2,770.2 84.7,768.5 87.7,768.5 89.7,766.5 93.4,766.5 95.9,764.8 99.1,764.8 102.1,762.0 104.1,760.3 109.5,760.3 112.0,757.8 115.7,754.9 124.4,754.9 128.1,750.4 130.6,748.4 138.1,748.4 141.3,746.7 143.8,742.2 147.3,740.5 150.5,738.7 154.2,738.7 157.9,737.2 161.7,734.3 164.1,729.3 167.1,725.1 170.3,724.3 174.1,720.6 176.5,716.9 179.5,713.4 184.0,713.2 187.7,709.0 191.4,706.5 195.2,703.3 198.9,702.0 201.9,701.5 205.1,698.8 208.8,696.6 212.5,695.2 216.2,694.5 219.9,694.0 267.1,694.0 269.6,692.7 282.0,692.7 286.9,689.5 295.6,689.5 298.1,688.3 303.1,687.8 313.0,687.8 316.2,686.5 320.4,686.5 322.9,684.8 375.0,684.8 380.0,684.3 384.9,682.6 391.1,681.3 394.9,678.4 397.3,676.9 407.3,676.9 409.7,670.9 419.7,670.2 425.9,666.0 440.8,666.0 444.5,664.7 449.5,663.5 468.1,663.5 471.8,661.5 481.7,661.0 484.2,659.5 494.1,659.5 497.9,658.3 504.1,658.3 506.1,657.3 543.8,657.1 547.0,655.5 550.3,654.4 554.7,654.0 558.0,652.9 562.4,652.7 565.7,650.7 572.2,650.3 575.5,647.9 579.9,645.2 585.4,645.2 588.6,643.9 602.9,643.9 606.2,642.8 610.5,641.3 616.0,641.3 619.3,638.0 624.8,636.9 635.7,636.9 639.0,635.2 643.4,634.1 648.9,634.1 652.1,632.1 666.4,632.1 669.7,629.7 673.4,626.6 678.4,626.6"/>
<polyline stroke="#4472C4" points="54.4,796.8 58.7,794.3 62.4,792.6 66.1,790.1 69.8,788.8 73.5,785.9 77.3,783.4 81.0,781.9 84.7,781.4 88.4,780.7 92.2,778.2 95.9,775.2 99.6,772.7 102.6,770.2 105.3,767.0 109.5,766.5 113.3,766.5 117.0,762.3 120.7,758.3 124.4,756.1 129.4,754.1 133.1,751.1 136.8,748.7 140.6,745.9 144.3,743.7 148.7,743.0 151.7,740.5 155.5,736.8 159.7,734.8 162.9,733.0 166.6,728.1 169.1,726.3 172.8,725.6 176.5,723.1 180.3,719.9 184.0,715.7 187.0,713.2 190.2,713.2 193.9,708.2 197.6,703.3 201.4,700.8 205.1,699.5 208.8,697.1 211.3,695.1 213.7,692.7 218.7,691.5 222.4,688.5 226.1,685.3 229.9,682.1 234.8,680.8 239.3,674.6 242.3,672.4 246.0,670.4 251.0,669.7 255.9,667.2 260.9,664.9 264.1,661.7 268.3,660.0 273.3,658.0 277.0,655.5 279.5,653.8 283.2,653.8 286.9,651.8 289.9,649.3 293.1,648.1 295.6,646.8 299.4,646.1 303.8,641.9 306.8,640.6 311.8,640.1 315.5,638.6 318.7,635.2 322.9,633.7 326.7,633.7 330.4,631.9 334.1,630.2 336.6,628.7 340.3,627.0 344.0,626.5 347.8,625.2 352.7,623.3 358.9,622.0 362.6,620.8 366.4,620.3 372.6,619.5 380.0,618.0 384.9,616.8 391.1,615.1 394.9,612.6 401.1,608.9 406.0,608.1 409.7,604.9 414.7,602.7 419.7,602.4 425.9,598.2 430.8,596.5 435.8,595.2 440.8,593.3 445.7,590.8 452.0,589.0 455.7,587.1 461.9,585.8 468.1,585.3 473.0,585.1 476.8,582.1 481.7,580.1 486.7,578.9 491.7,577.1 496.6,577.1 501.6,576.6 505.3,574.2 511.5,573.9 516.5,571.4 521.4,569.2 526.4,568.9 531.4,568.0 535.1,567.2 540.3,564.6 544.9,564.6 549.2,563.5 555.8,562.0 559.1,562.0 562.4,560.2 567.8,559.1 573.3,558.7 577.7,558.0 582.1,557.4 593.0,557.4 596.3,555.4 600.7,553.2 605.1,552.6 610.5,550.8 613.8,549.5 618.2,548.6 622.6,548.2 625.9,545.6 630.2,543.4 635.7,541.6 641.2,538.3 645.6,536.6 650.0,536.1 656.5,535.0 659.8,533.3 664.2,531.8 669.7,531.8 674.0,527.4 678.4,523.7"/>
</g>
<rect x="194.1" y="272.5" width="12" height="20" fill="#fff" fill-opacity="0.75"/>
<rect x="209.6" y="272.5" width="12" height="20" fill="#fff" fill-opacity="0.75"/>
<rect x="333.4" y="272.5" width="12" height="20" fill="#fff" fill-opacity="0.75"/>
<rect x="379.3" y="272.5" width="12" height="20" fill="#fff" fill-opacity="0.75"/>
<rect x="410.4" y="272.5" width="12" height="20" fill="#fff" fill-opacity="0.75"/>
<polygon points="200.1,293.4 196.2,301.8 204.0,301.8" fill="#000"/>
<rect x="198.65" y="301.5" width="2.9" height="61.5" fill="#000"/>
<text x="199.6" y="288.2" font-size="11.5" text-anchor="middle" font-weight="bold" fill="#404040" font-family="Liberation Sans, sans-serif" >1</text>
<polygon points="215.6,293.4 211.7,301.8 219.5,301.8" fill="#000"/>
<rect x="214.15" y="301.5" width="2.9" height="61.5" fill="#000"/>
<text x="215.29999999999998" y="287.0" font-size="12" text-anchor="middle" font-weight="bold" fill="#404040" font-family="Liberation Sans, sans-serif" >*</text>
<polygon points="339.4,293.4 335.5,301.8 343.3,301.8" fill="#000"/>
<rect x="337.95" y="301.5" width="2.9" height="61.5" fill="#000"/>
<text x="338.9" y="288.2" font-size="11.5" text-anchor="middle" font-weight="bold" fill="#404040" font-family="Liberation Sans, sans-serif" >3</text>
<polygon points="385.3,293.4 381.4,301.8 389.2,301.8" fill="#000"/>
<rect x="383.85" y="301.5" width="2.9" height="61.5" fill="#000"/>
<text x="384.8" y="288.2" font-size="11.5" text-anchor="middle" font-weight="bold" fill="#404040" font-family="Liberation Sans, sans-serif" >4</text>
<polygon points="416.4,293.4 412.5,301.8 420.3,301.8" fill="#000"/>
<rect x="414.95" y="301.5" width="2.9" height="61.5" fill="#000"/>
<text x="416.59999999999997" y="288.8" font-size="12" text-anchor="middle" font-weight="bold" fill="#404040" font-family="Liberation Sans, sans-serif" >#</text>
</svg>
</body></html>
